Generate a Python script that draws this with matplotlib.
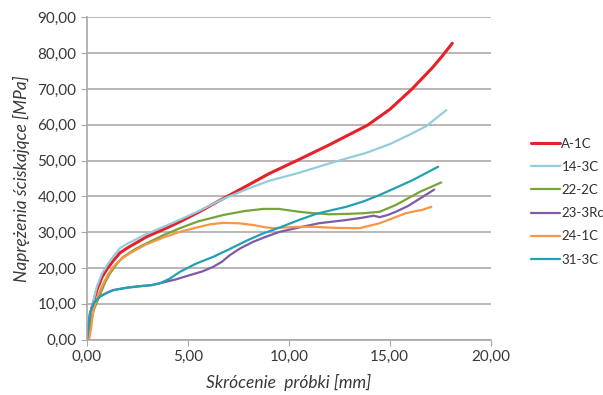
import matplotlib
matplotlib.use('Agg')
import matplotlib.pyplot as plt
from matplotlib.ticker import FuncFormatter

plt.rcParams['font.family'] = ['Lato', 'DejaVu Sans']

# skrócenie [mm] i naprężenie [MPa]
a1c_x = [0, 0.1, 0.25, 0.5, 0.75, 1.0, 1.3, 1.63, 2.0, 2.95, 4.0, 4.6, 5.5, 6.75, 8.0, 9.0, 10.5, 12.0, 13.9, 15.0, 16.1, 17.15, 17.64, 18.1]
a1c_y = [0, 4, 9, 14, 17.5, 19.8, 22, 24.2, 25.6, 28.7, 31.3, 32.9, 35.5, 39.4, 43.2, 46.3, 50.3, 54.4, 59.9, 64.3, 70.0, 76.2, 79.5, 82.8]

c14_x = [0, 0.1, 0.3, 0.5, 0.75, 1.0, 1.3, 1.63, 2.0, 2.95, 4.0, 4.6, 5.5, 6.75, 8.0, 9.0, 10.5, 12.0, 13.85, 15.0, 16.0, 16.8, 17.8]
c14_y = [0, 5, 10.5, 15, 18.5, 20.8, 23.2, 25.5, 26.8, 29.5, 32, 33.5, 35.8, 39.3, 42.2, 44.3, 46.6, 49.2, 52.2, 54.6, 57.3, 59.6, 64.1]

c22_x = [0, 0.15, 0.35, 0.64, 0.9, 1.14, 1.5, 1.8, 2.4, 2.95, 3.8, 4.6, 5.5, 6.75, 7.8, 8.73, 9.5, 10.5, 11.2, 12.0, 12.85, 13.7, 14.5, 15.3, 16.5, 17.55]
c22_y = [0, 4, 8.5, 12.5, 16, 18.5, 21.3, 23.1, 25.3, 26.9, 29.2, 31.1, 33, 34.8, 35.9, 36.5, 36.5, 35.7, 35.3, 35.0, 35.1, 35.3, 35.7, 37.6, 41.3, 43.9]

c23_x = [0, 0.05, 0.15, 0.35, 0.64, 1.0, 1.3, 2.0, 2.62, 3.2, 3.6, 4.4, 5.1, 5.7, 6.25, 6.7, 7.08, 7.6, 8.23, 8.9, 9.55, 10.5, 11.5, 12.85, 13.6, 14.2, 14.5, 14.9, 15.3, 15.9, 16.5, 17.2]
c23_y = [0, 3, 7.5, 10.3, 12, 13.1, 13.8, 14.5, 14.9, 15.2, 15.7, 16.8, 18, 19, 20.3, 21.8, 23.6, 25.5, 27.3, 28.8, 30.1, 31.3, 32.5, 33.4, 34, 34.6, 34.2, 34.8, 35.7, 37.3, 39.4, 41.9]

c24_x = [0.1, 0.2, 0.31, 0.55, 0.81, 1.05, 1.3, 1.7, 2.13, 2.9, 3.78, 4.6, 5.43, 6.1, 6.75, 7.5, 8.23, 8.8, 9.22, 9.8, 10.5, 11.2, 12.3, 13.5, 14.5, 15.8, 16.3, 16.6, 17.06]
c24_y = [0, 3, 8.2, 12.5, 15.7, 18.3, 20.3, 22.5, 24.1, 26.5, 28.5, 30.1, 31.3, 32.2, 32.6, 32.5, 32.0, 31.4, 31.1, 31.3, 31.5, 31.5, 31.2, 31.1, 32.5, 35.3, 35.9, 36.2, 37.1]

c31_x = [0, 0.05, 0.15, 0.35, 0.64, 1.0, 1.3, 2.0, 2.62, 3.2, 3.6, 4.1, 4.6, 5.4, 6.25, 7.0, 7.9, 8.7, 9.55, 10.5, 11.4, 12.85, 13.7, 14.5, 15.3, 16.15, 17.4]
c31_y = [0, 3, 7.5, 10.3, 12, 13.1, 13.8, 14.5, 14.9, 15.2, 15.7, 17, 18.9, 21.2, 23.1, 25.1, 27.6, 29.6, 31.3, 33.4, 35.2, 37.1, 38.6, 40.4, 42.4, 44.6, 48.3]

labels = ['A-1C', '14-3C', '22-2C', '23-3Rc', '24-1C', '31-3C']
colors = ['#e8202a', '#93cddd', '#77a33a', '#7d5ba6', '#f79646', '#23a0b4']

fig = plt.figure(figsize=(6.03, 3.95), dpi=100)
ax = fig.add_axes([0.1443, 0.1405, 0.6694, 0.8152])

series = [(a1c_x, a1c_y), (c14_x, c14_y), (c22_x, c22_y),
          (c23_x, c23_y), (c24_x, c24_y), (c31_x, c31_y)]
for (xs, ys), lab, col in zip(series, labels, colors):
    lw = 2.2 if lab == 'A-1C' else 1.6
    ax.plot(xs, ys, color=col, lw=lw, label=lab, solid_capstyle='round')

ax.set_xlim(0, 20)
ax.set_ylim(0, 90)
ax.set_xticks([0, 5, 10, 15, 20])
ax.set_yticks(range(0, 91, 10))
fmt = FuncFormatter(lambda v, p: f'{v:.2f}'.replace('.', ','))
ax.xaxis.set_major_formatter(fmt)
ax.yaxis.set_major_formatter(fmt)
ax.grid(axis='y', color='#b0a9a9', lw=1.2)
ax.set_axisbelow(True)
for s in ['top', 'right']:
    ax.spines[s].set_visible(False)
for s in ['left', 'bottom']:
    ax.spines[s].set_color('#a8a8a8')
    ax.spines[s].set_linewidth(1.2)
ax.tick_params(axis='both', colors='#a8a8a8', labelcolor='#383838', labelsize=11, length=4, direction='out')

ax.set_xlabel('Skrócenie  próbki [mm]', fontsize=12.5, style='italic', color='#383838')
ax.set_ylabel('Naprężenia ściskajqce [MPa]', fontsize=12.5, style='italic', color='#383838')
ax.xaxis.set_label_coords(0.5, -0.108)
ax.yaxis.set_label_coords(-0.141, 0.5)

fig.legend(loc='upper left', bbox_to_anchor=(0.872, 0.665), frameon=False,
           fontsize=9.5, handlelength=2.2, handletextpad=0.1, labelspacing=0.85,
           labelcolor='#303030', borderaxespad=0)

fig.savefig('out.png', dpi=100)
